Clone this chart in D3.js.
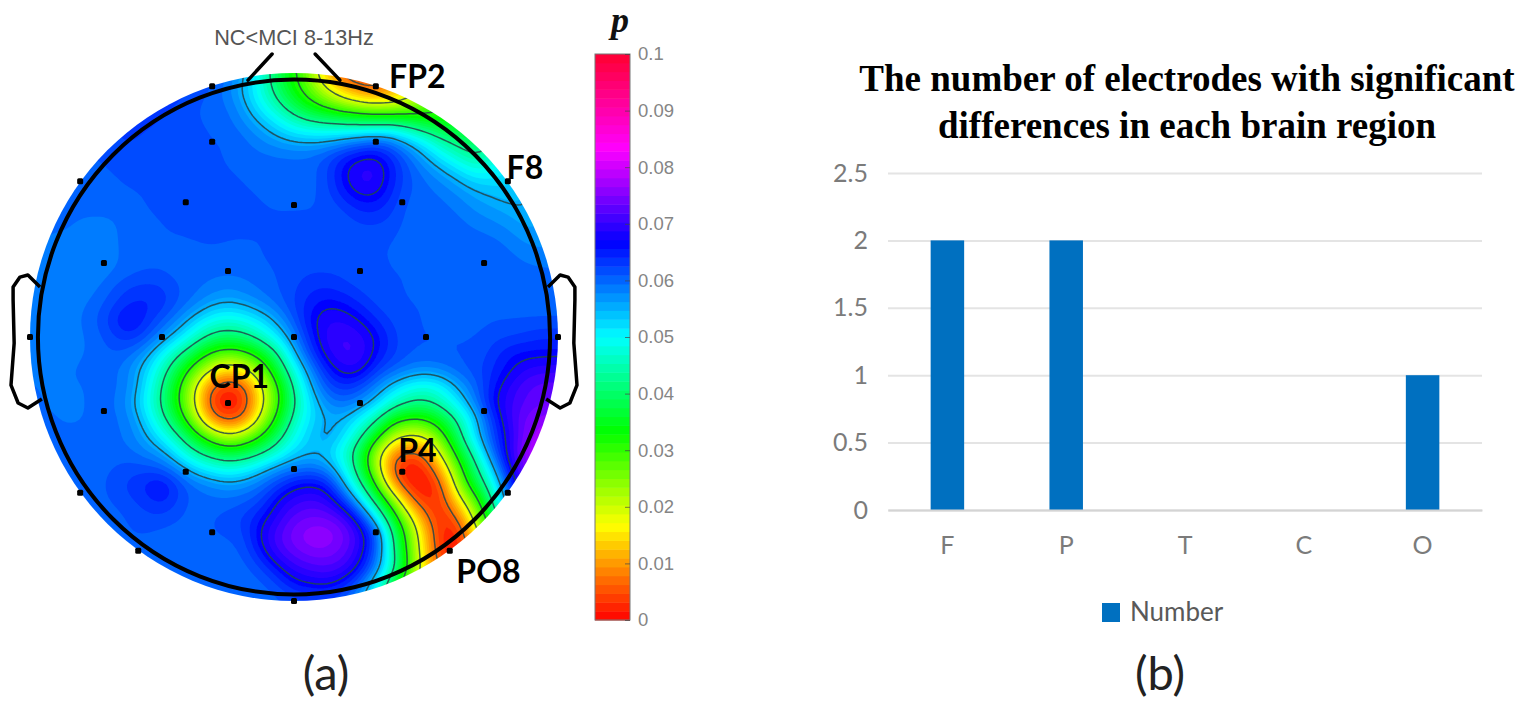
<!DOCTYPE html>
<html>
<head>
<meta charset="utf-8">
<script src="https://cdnjs.cloudflare.com/ajax/libs/d3/7.8.5/d3.min.js"></script>
<style>
  html, body { margin: 0; background: #fff; }
  svg { display: block; }
</style>
</head>
<body>
<svg id="fig" width="1535" height="709"></svg>
<script>
// p values, in thousandths, on an even grid over the scalp disc
var pGrid = [
  [62,62,62,62,62,62,62,62,62,62,62,62,60,56,48,38,32,24,10,4,2,4,10,16,22,28,32,36,42,48,52,56,58],
  [62,62,62,62,62,62,62,63,64,64,62,61,58,54,48,40,33,27,19,12,7,5,9,14,20,27,32,36,42,48,52,56,58],
  [62,62,62,62,62,62,63,64,63,62,61,60,60,56,50,45,38,33,29,25,22,20,20,23,28,30,33,37,42,48,52,56,58],
  [62,62,62,62,62,63,63,63,62,62,61,61,60,58,55,51,47,44,43,42,41,41,42,39,35,33,33,36,42,48,52,56,58],
  [62,62,62,62,62,62,63,62,62,62,61,61,61,60,58,56,54,54,54,56,58,60,58,53,49,43,40,37,42,48,52,56,58],
  [60,60,60,61,61,62,62,62,62,62,61,61,61,60,60,60,60,60,62,65,67,68,64,60,55,50,46,42,46,50,53,56,58],
  [60,60,60,60,60,61,62,62,62,62,62,61,61,61,60,60,60,60,62,67,70,70,65,61,59,56,53,49,50,52,54,56,58],
  [60,60,60,60,60,60,61,61,62,62,62,62,61,61,61,60,60,60,62,66,69,69,64,61,60,59,57,55,54,53,54,56,58],
  [60,60,60,60,60,60,60,61,62,62,62,62,62,61,61,61,61,61,61,63,65,65,63,60,60,60,59,57,56,55,55,56,58],
  [60,60,60,59,59,59,60,60,61,61,62,62,62,62,61,61,61,61,61,61,63,63,62,60,60,60,60,59,58,57,55,56,58],
  [60,59,59,59,59,59,60,60,61,61,61,62,61,61,61,61,62,62,62,61,61,61,61,60,60,60,60,60,60,59,57,57,58],
  [59,59,59,58,58,59,60,60,60,60,60,60,60,60,61,62,62,62,62,62,61,61,61,60,60,60,60,60,60,60,59,58,58],
  [59,59,58,58,58,59,60,61,61,60,60,60,60,60,60,61,62,62,62,62,61,61,61,61,60,60,60,60,60,60,60,60,60],
  [59,59,58,58,59,61,63,63,63,61,60,59,58,59,60,61,62,64,64,63,62,61,61,61,60,60,60,60,60,60,60,60,60],
  [59,59,58,59,60,62,64,65,64,61,59,56,55,56,58,60,63,65,67,66,64,62,61,61,61,60,60,60,60,60,60,60,60],
  [59,59,59,59,61,64,68,64,61,58,53,49,47,49,52,56,61,67,69,69,67,64,62,61,61,60,60,60,61,61,61,61,61],
  [58,58,58,59,60,62,64,62,58,53,47,41,40,41,46,52,58,65,70,71,70,67,63,61,61,61,61,61,62,62,63,64,64],
  [58,58,58,59,60,61,60,57,50,44,37,30,27,29,34,42,55,63,69,71,71,66,63,61,61,61,61,61,63,66,66,66,66],
  [59,58,59,60,60,60,58,53,46,37,27,18,13,17,25,37,48,58,65,69,69,63,61,59,58,59,61,62,64,66,69,70,70],
  [60,59,59,59,60,60,59,52,43,32,19,5,1,4,17,30,44,55,62,64,62,58,53,49,47,50,56,60,65,69,72,73,73],
  [60,59,59,59,60,60,57,50,42,31,18,2,0,2,16,29,42,52,58,60,58,54,47,43,42,46,52,59,67,70,72,73,73],
  [60,60,59,59,60,60,59,53,45,36,23,7,3,6,21,33,46,52,55,55,50,44,33,30,31,36,44,53,63,70,74,76,76],
  [60,60,60,60,60,60,59,56,50,44,35,26,19,24,31,40,49,54,58,53,45,35,21,18,19,29,41,54,62,68,74,79,80],
  [60,60,60,60,60,60,60,58,57,50,44,40,37,38,42,47,53,54,53,47,38,21,8,4,7,22,35,46,60,69,76,82,82],
  [60,60,60,60,60,61,62,62,61,58,53,50,48,50,54,58,59,60,58,51,39,22,3,0,2,12,29,41,53,67,74,80,82],
  [60,60,60,60,60,62,63,65,68,63,60,59,57,58,60,63,67,68,67,56,45,32,9,1,0,4,25,37,47,62,72,80,82],
  [60,60,60,60,60,61,62,63,65,62,60,60,60,61,62,68,70,71,70,65,54,41,28,8,2,3,15,27,42,60,70,78,82],
  [60,60,60,60,60,60,61,62,62,61,60,61,62,63,66,69,73,74,74,72,66,52,36,22,7,1,6,21,38,52,65,75,80],
  [60,60,60,60,60,60,61,61,60,60,60,61,61,62,68,72,75,77,77,75,70,64,43,27,12,1,1,15,30,45,60,75,80],
  [60,60,60,60,60,60,60,60,60,60,60,60,60,61,66,71,73,75,75,73,69,61,44,28,12,1,0,10,25,45,60,75,80],
  [60,60,60,60,60,60,60,60,60,60,60,60,60,60,62,66,70,71,72,71,67,59,47,30,14,5,3,10,25,45,60,75,80],
  [60,60,60,60,60,60,60,60,60,60,60,60,60,60,60,62,66,67,68,65,60,50,36,22,12,5,3,10,25,45,60,75,80],
  [60,60,60,60,60,60,60,60,60,60,60,60,60,60,60,60,61,61,61,60,56,48,36,22,12,5,3,10,25,45,60,75,80]
];

// electrode positions in scalp units, nose up, radius 1 at the outer ring
var electrodes = [
  [-0.31,0.95],[0.31,0.95],[-0.31,0.74],[0.31,0.74],[-0.81,0.59],[0.81,0.59],
  [-0.41,0.51],[0,0.5],[0.41,0.51],[-0.72,0.28],[-0.25,0.25],[0.25,0.25],[0.72,0.28],
  [-1,0],[-0.5,0],[0,0],[0.5,0],[1,0],[-0.72,-0.28],[-0.25,-0.25],[0.25,-0.25],[0.72,-0.28],
  [-0.41,-0.51],[0,-0.5],[0.41,-0.51],[-0.81,-0.59],[0.81,-0.59],[-0.31,-0.74],[0.31,-0.74],
  [-0.59,-0.81],[0.59,-0.81],[0,-1]
];
var earOutline = [
  [0.962,0.189],[1.008,0.235],[1.038,0.227],[1.064,0.189],[1.064,0.14],[1.06,-0.023],
  [1.072,-0.182],[1.045,-0.25],[1.008,-0.269],[0.955,-0.235]
];
var noseLines = [
  [[-0.174,0.973],[-0.083,1.072]],
  [[0.174,0.973],[0.08,1.072]]
];
var electrodeLabels = [
  { text: 'FP2', x: 0.36, y: 0.945 },
  { text: 'F8', x: 0.805, y: 0.60 },
  { text: 'CP1', x: -0.32, y: -0.195 },
  { text: 'P4', x: 0.395, y: -0.475 },
  { text: 'PO8', x: 0.615, y: -0.93 }
];
var contourLevels = [0.007, 0.019, 0.031, 0.043, 0.055, 0.067];
var colorStops = [0, 0.0167, 0.0333, 0.05, 0.0667, 0.0833, 0.1];
var colorNames = ['#ff0000', '#ffff00', '#00ff00', '#00ffff', '#0000ff', '#ff00ff', '#ff0030'];
var colorbarTicks = [0, 0.01, 0.02, 0.03, 0.04, 0.05, 0.06, 0.07, 0.08, 0.09, 0.1];

var regions = ['F', 'P', 'T', 'C', 'O'];
var electrodeCounts = [2, 2, 0, 0, 1];
var countTicks = [0, 0.5, 1, 1.5, 2, 2.5];
var titleLines = ['The number of electrodes with significant', 'differences in each brain region'];

var svg = d3.select('#fig');
var sans = '"Liberation Sans", Arial, sans-serif';
var calibriLike = 'Lato, "Open Sans", sans-serif';

var scalpX = d3.scaleLinear().domain([-1, 1]).range([30, 558]);
var scalpY = d3.scaleLinear().domain([-1, 1]).range([601, 73]);
var pColor = d3.scaleLinear().domain(colorStops).range(colorNames);

function renderMap() {
  var upscale = 4;
  var rows = pGrid.length, cols = pGrid[0].length;
  var w = (cols - 1) * upscale + 1, h = (rows - 1) * upscale + 1;
  var values = new Float64Array(w * h);
  for (var j = 0; j < h; j++) {
    var j0 = Math.floor(j / upscale), j1 = Math.min(j0 + 1, rows - 1), tj = j / upscale - j0;
    for (var i = 0; i < w; i++) {
      var i0 = Math.floor(i / upscale), i1 = Math.min(i0 + 1, cols - 1), ti = i / upscale - i0;
      values[j * w + i] = ((pGrid[j0][i0] * (1 - ti) + pGrid[j0][i1] * ti) * (1 - tj) +
        (pGrid[j1][i0] * (1 - ti) + pGrid[j1][i1] * ti) * tj) / 1000;
    }
  }
  d3.blur2({ data: values, width: w, height: h }, 1.5);

  var fineX = d3.scaleLinear().domain([0.5, w - 0.5]).range([-1, 1]);
  var fineY = d3.scaleLinear().domain([0.5, h - 0.5]).range([1, -1]);
  var toPage = d3.geoTransform({
    point: function (x, y) {
      this.stream.point(scalpX(fineX(x)), scalpY(fineY(y)));
    }
  });
  var path = d3.geoPath(toPage);

  var r = scalpX(1) - scalpX(0);
  var defs = svg.append('defs');
  defs.append('clipPath').attr('id', 'disc').append('circle')
    .attr('cx', scalpX(0)).attr('cy', scalpY(0)).attr('r', r);
  defs.append('filter').attr('id', 'soft')
    .append('feGaussianBlur').attr('stdDeviation', 0.7);

  var map = svg.append('g').attr('clip-path', 'url(#disc)')
    .append('g').attr('filter', 'url(#soft)');
  var levels = d3.range(0, 64).map(function (k) { return k / 640; });
  var contours = d3.contours().size([w, h]);
  map.selectAll('path.band').data(contours.thresholds(levels)(values))
    .enter().append('path')
    .attr('class', 'band')
    .attr('d', path)
    .attr('fill', function (d) { return pColor(d.value + 1 / 1280); });
  map.selectAll('path.iso').data(contours.thresholds(contourLevels)(values))
    .enter().append('path')
    .attr('class', 'iso')
    .attr('d', path)
    .attr('fill', 'none')
    .attr('stroke', '#24484a')
    .attr('stroke-opacity', 0.85)
    .attr('stroke-width', 1.5);

  // head, ears, nose
  svg.append('ellipse')
    .attr('cx', scalpX(0)).attr('cy', scalpY(0))
    .attr('rx', r * 0.97).attr('ry', r * 0.975)
    .attr('fill', 'none').attr('stroke', '#000').attr('stroke-width', 4);

  var line = d3.line()
    .x(function (d) { return scalpX(d[0]); })
    .y(function (d) { return scalpY(d[1]); });
  [1, -1].forEach(function (side) {
    svg.append('path')
      .attr('d', line(earOutline.map(function (p) { return [p[0] * side, p[1]]; })))
      .attr('fill', 'none').attr('stroke', '#000').attr('stroke-width', 3.5)
      .attr('stroke-linejoin', 'round');
  });
  svg.selectAll('path.nose').data(noseLines).enter().append('path')
    .attr('class', 'nose')
    .attr('d', line)
    .attr('stroke', '#000').attr('stroke-width', 3.5).attr('stroke-linecap', 'round');

  svg.selectAll('rect.electrode').data(electrodes).enter().append('rect')
    .attr('class', 'electrode')
    .attr('x', function (d) { return scalpX(d[0]) - 3; })
    .attr('y', function (d) { return scalpY(d[1]) - 3; })
    .attr('width', 6).attr('height', 6).attr('rx', 1.5)
    .attr('fill', '#000');

  svg.selectAll('text.electrode-label').data(electrodeLabels).enter().append('text')
    .attr('class', 'electrode-label')
    .attr('x', function (d) { return scalpX(d.x); })
    .attr('y', function (d) { return scalpY(d.y); })
    .attr('font-family', calibriLike)
    .attr('font-weight', 700)
    .attr('font-size', 32)
    .attr('fill', '#000')
    .text(function (d) { return d.text; });

  svg.append('text')
    .attr('x', 294).attr('y', 45)
    .attr('text-anchor', 'middle')
    .attr('font-family', sans).attr('font-size', 21.7).attr('fill', '#555')
    .text('NC<MCI 8-13Hz');

  svg.append('text')
    .attr('x', 326).attr('y', 690)
    .attr('text-anchor', 'middle')
    .attr('font-family', calibriLike).attr('font-size', 47).attr('fill', '#222')
    .text('(a)');
}

function renderColorbar() {
  var y = d3.scaleLinear().domain([0, 0.1]).range([620, 54]);
  var steps = d3.range(0, 64).map(function (k) { return k / 640; });
  var bar = svg.append('g');
  bar.selectAll('rect').data(steps).enter().append('rect')
    .attr('x', 595).attr('width', 35)
    .attr('y', function (d) { return y(d + 1 / 640); })
    .attr('height', function (d) { return y(d) - y(d + 1 / 640) + 0.5; })
    .attr('fill', function (d) { return pColor(d + 1 / 1280); });
  bar.append('rect')
    .attr('x', 595).attr('y', 54).attr('width', 35).attr('height', 566)
    .attr('fill', 'none').attr('stroke', '#777').attr('stroke-width', 1);

  var axis = d3.axisRight(y).tickValues(colorbarTicks).tickFormat(String).tickSize(-5).tickPadding(8);
  var g = svg.append('g').attr('transform', 'translate(630,0)').call(axis);
  g.select('.domain').remove();
  g.selectAll('.tick line').attr('stroke', '#444').attr('stroke-opacity', 0.7);
  g.selectAll('text')
    .attr('font-family', sans).attr('font-size', 18.5).attr('fill', '#858585');

  svg.append('text')
    .attr('x', 620).attr('y', 32)
    .attr('text-anchor', 'middle')
    .attr('font-family', '"Liberation Serif", serif')
    .attr('font-style', 'italic').attr('font-weight', 700)
    .attr('font-size', 36).attr('fill', '#111')
    .text('p');
}

function renderBars() {
  var x = d3.scaleBand().domain(regions).range([888, 1482]).paddingInner(0.718).paddingOuter(0.359);
  var y = d3.scaleLinear().domain([0, 2.5]).range([510, 173]);

  var yAxis = d3.axisLeft(y).tickValues(countTicks).tickFormat(String).tickSize(-594).tickPadding(20);
  var yg = svg.append('g').attr('transform', 'translate(888,0)').call(yAxis);
  yg.select('.domain').remove();
  yg.selectAll('.tick line').attr('stroke', '#e4e4e4').attr('stroke-width', 2);
  yg.selectAll('text').attr('font-family', calibriLike).attr('font-size', 25).attr('fill', '#7b7b7b');

  svg.selectAll('rect.bar').data(electrodeCounts).enter().append('rect')
    .attr('class', 'bar')
    .attr('x', function (d, i) { return x(regions[i]); })
    .attr('y', function (d) { return y(d); })
    .attr('width', x.bandwidth())
    .attr('height', function (d) { return y(0) - y(d); })
    .attr('fill', '#0070c0');

  var xAxis = d3.axisBottom(x).tickSize(0).tickPadding(26);
  var xg = svg.append('g').attr('transform', 'translate(0,510)').call(xAxis);
  xg.select('.domain').attr('stroke', '#d4d4d4').attr('stroke-width', 2);
  xg.selectAll('text').attr('font-family', calibriLike).attr('font-size', 25).attr('fill', '#7b7b7b');

  svg.selectAll('text.title').data(titleLines).enter().append('text')
    .attr('class', 'title')
    .attr('x', 1187)
    .attr('y', function (d, i) { return 91 + i * 47; })
    .attr('text-anchor', 'middle')
    .attr('font-family', '"Liberation Serif", serif')
    .attr('font-weight', 700)
    .attr('font-size', 37)
    .attr('fill', '#000')
    .text(function (d) { return d; });

  svg.append('rect').attr('x', 1102).attr('y', 603).attr('width', 18).attr('height', 19).attr('fill', '#0070c0');
  svg.append('text')
    .attr('x', 1130).attr('y', 621)
    .attr('font-family', calibriLike).attr('font-size', 26).attr('fill', '#595959')
    .text('Number');

  svg.append('text')
    .attr('x', 1160).attr('y', 690)
    .attr('text-anchor', 'middle')
    .attr('font-family', calibriLike).attr('font-size', 47).attr('fill', '#222')
    .text('(b)');
}

renderMap();
renderColorbar();
renderBars();
</script>
</body>
</html>
